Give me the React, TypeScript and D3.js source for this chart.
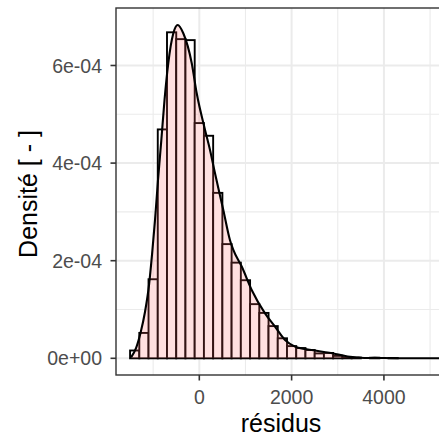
import React from "react";
import * as d3 from "d3";

// Histogram bins (left edges, width 200) and density heights
const binStarts = [-1500, -1300, -1100, -900, -700, -500, -300, -100, 100, 300, 500, 700, 900, 1100, 1300, 1500, 1700, 1900, 2100, 2300, 2500, 2700, 2900, 3100, 3300, 3500, 3700, 3900, 4100];
const binDensity = [0.16e-4, 0.52e-4, 1.62e-4, 4.69e-4, 6.68e-4, 6.54e-4, 6.52e-4, 4.82e-4, 4.56e-4, 3.39e-4, 2.34e-4, 1.96e-4, 1.6e-4, 1.11e-4, 0.93e-4, 0.66e-4, 0.41e-4, 0.25e-4, 0.21e-4, 0.17e-4, 0.1e-4, 0.11e-4, 0.05e-4, 0.02e-4, 0.015e-4, 0.0, 0.012e-4, 0.0, 0.006e-4];
const binWidth = 200;

// Kernel density estimate curve
const densX = [-1478, -1371, -1274, -1177, -1090, -1025, -960, -895, -823, -754, -672, -563, -468, -347, -165, -56, 124, 232, 340, 520, 665, 737, 919, 1135, 1424, 1640, 1857, 2074, 2300, 2507, 2700, 2904, 3100, 3265, 3450, 3627, 3800, 4000, 4300, 4700, 5400];
const densY = [0.02e-4, 0.21e-4, 0.52e-4, 0.95e-4, 1.5e-4, 2.12e-4, 2.83e-4, 3.65e-4, 4.47e-4, 5.29e-4, 6.05e-4, 6.66e-4, 6.83e-4, 6.66e-4, 6.05e-4, 5.43e-4, 4.68e-4, 4.27e-4, 3.79e-4, 3.04e-4, 2.42e-4, 2.22e-4, 1.88e-4, 1.4e-4, 0.92e-4, 0.65e-4, 0.375e-4, 0.24e-4, 0.19e-4, 0.16e-4, 0.13e-4, 0.1e-4, 0.06e-4, 0.03e-4, 0.015e-4, 0.005e-4, 0.01e-4, 0.005e-4, 0.002e-4, 0.001e-4, 0];

const xMajor = [0, 2000, 4000];
const xMinor = [-1000, 1000, 3000, 5000];
const yMajor = [0, 2e-4, 4e-4, 6e-4];
const yMinor = [1e-4, 3e-4, 5e-4];
const yTickLabels = ["0e+00", "2e-04", "4e-04", "6e-04"];

const W = 439;
const H = 437;
const P = { left: 116, top: 8, right: 446, bottom: 375 };

export default function App() {
  const x = d3.scaleLinear().domain([-1805, 5345]).range([P.left, P.right]);
  const y = d3.scaleLinear().domain([-3.42e-5, 7.178e-4]).range([P.bottom, P.top]);

  const pts: [number, number][] = densX.map((d, i) => [d, densY[i]]);
  const area = d3
    .area<[number, number]>()
    .x((d) => x(d[0]))
    .y0(y(0))
    .y1((d) => y(d[1]))
    .curve(d3.curveMonotoneX);
  const line = d3
    .line<[number, number]>()
    .x((d) => x(d[0]))
    .y((d) => y(d[1]))
    .curve(d3.curveMonotoneX);

  const font = "'Liberation Sans', Arial, sans-serif";

  return (
    <svg width={W} height={H} style={{ position: "absolute", left: 0, top: 0, background: "#fff" }}>
      <defs>
        <clipPath id="panel">
          <rect x={P.left} y={P.top} width={P.right - P.left} height={P.bottom - P.top} />
        </clipPath>
      </defs>
      <rect x={0} y={0} width={W} height={H} fill="#fff" />
      <g clipPath="url(#panel)">
        {xMinor.map((v) => (
          <line key={"xm" + v} x1={x(v)} x2={x(v)} y1={P.top} y2={P.bottom} stroke="#EBEBEB" strokeWidth={1.1} />
        ))}
        {yMinor.map((v) => (
          <line key={"ym" + v} x1={P.left} x2={P.right} y1={y(v)} y2={y(v)} stroke="#EBEBEB" strokeWidth={1.1} />
        ))}
        {xMajor.map((v) => (
          <line key={"xM" + v} x1={x(v)} x2={x(v)} y1={P.top} y2={P.bottom} stroke="#EBEBEB" strokeWidth={2} />
        ))}
        {yMajor.map((v) => (
          <line key={"yM" + v} x1={P.left} x2={P.right} y1={y(v)} y2={y(v)} stroke="#EBEBEB" strokeWidth={2} />
        ))}
        {binStarts.map((b, i) => (
          <rect
            key={"bar" + i}
            x={x(b)}
            y={y(binDensity[i])}
            width={x(b + binWidth) - x(b)}
            height={y(0) - y(binDensity[i])}
            fill="#fff"
            stroke="#000"
            strokeWidth={1.9}
          />
        ))}
        <path d={area(pts) || ""} fill="#FF6666" fillOpacity={0.2} />
        <path d={line(pts) || ""} fill="none" stroke="#000" strokeWidth={2.1} />
      </g>
      <rect x={P.left} y={P.top} width={P.right - P.left} height={P.bottom - P.top} fill="none" stroke="#333" strokeWidth={1.4} />
      {yMajor.map((v, i) => (
        <g key={"yt" + v}>
          <line x1={P.left - 5.5} x2={P.left} y1={y(v)} y2={y(v)} stroke="#333" strokeWidth={1.6} />
          <text x={P.left - 14} y={y(v)} dy="0.36em" textAnchor="end" fontFamily={font} fontSize={19.5} fill="#4D4D4D">
            {yTickLabels[i]}
          </text>
        </g>
      ))}
      {xMajor.map((v) => (
        <g key={"xt" + v}>
          <line x1={x(v)} x2={x(v)} y1={P.bottom} y2={P.bottom + 5.5} stroke="#333" strokeWidth={1.6} />
          <text x={x(v)} y={403.5} textAnchor="middle" fontFamily={font} fontSize={19.5} fill="#4D4D4D">
            {String(v)}
          </text>
        </g>
      ))}
      <text x={(P.left + P.right) / 2} y={431.5} textAnchor="middle" fontFamily={font} fontSize={25} fill="#000">
        résidus
      </text>
      <text
        transform={`translate(37, 194) rotate(-90)`}
        textAnchor="middle"
        fontFamily={font}
        fontSize={25}
        fill="#000"
      >
        Densité [ - ]
      </text>
    </svg>
  );
}
